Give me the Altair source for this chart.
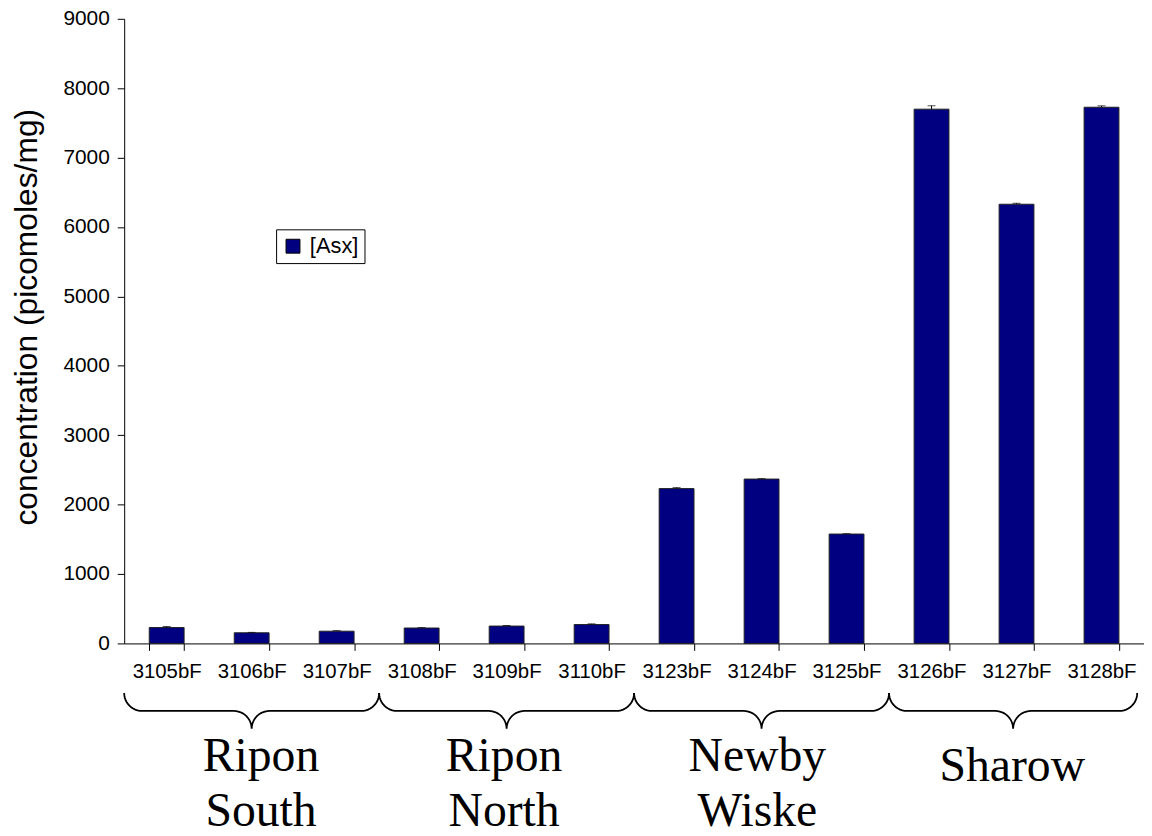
import altair as alt
import pandas as pd
import math

# ---- data ----
samples = ["3105bF", "3106bF", "3107bF", "3108bF", "3109bF", "3110bF",
           "3123bF", "3124bF", "3125bF", "3126bF", "3127bF", "3128bF"]
values = [229, 153, 176, 222, 250, 272, 2231, 2368, 1576, 7698, 6328, 7726]
errors = [15, 6, 8, 6, 8, 10, 14, 6, 5, 49, 14, 20]
series_name = "[Asx]"

group_names = ["Ripon\nSouth", "Ripon\nNorth", "Newby\nWiske", "Sharow"]
group_start = [0, 3, 6, 9]          # band index where each site begins
group_end = [3, 6, 9, 11.92]        # band index where each site ends
group_label_x = [1.61, 4.47, 7.45, 10.45]
group_label_line = [0, 0, 0, 11]    # extra drop (px) of a label's first line

# ---- layout constants ----
PLOT_W, PLOT_H = 1027, 629
BRACE_TOP, BRACE_MID, BRACE_TIP = 679, 697, 715   # px below the plot top
BRACE_R_PX = 18
LABEL_BASE = 757

bars_df = pd.DataFrame({"sample": samples, "value": values, "err": errors})
bars_df["hi"] = bars_df["value"] + bars_df["err"]
bars_df["series"] = series_name

# brace outline built from the group spans
rx = BRACE_R_PX / (PLOT_W / len(samples))
rows = []
for g, a, b in zip(group_names, group_start, group_end):
    m = (a + b) / 2
    left = []
    n = 12
    for k in range(n + 1):
        t = math.pi / 2 * k / n
        left.append((a + rx - rx * math.cos(t), BRACE_TOP + BRACE_R_PX * math.sin(t)))
    for k in range(n + 1):
        t = math.pi / 2 * k / n
        left.append((m - rx + rx * math.sin(t), BRACE_TIP - BRACE_R_PX * math.cos(t)))
    right = [(2 * m - x, y) for (x, y) in reversed(left[:-1])]
    for i, (x, y) in enumerate(left + right):
        rows.append({"group": g, "bx": x, "by": y, "o": i})
brace_df = pd.DataFrame(rows)

label_df = pd.DataFrame({
    "group": group_names,
    "lx": group_label_x,
    "ly": [LABEL_BASE + d for d in group_label_line],
})

x_band = alt.X(
    "sample:N",
    sort=samples,
    scale=alt.Scale(paddingInner=0.59, paddingOuter=0.295),
    axis=alt.Axis(
        title=None, labelAngle=0, tickBand="extent", tickSize=7,
        labelPadding=11, labelFontSize=20.5, labelFont="Liberation Sans",
        labelColor="black", domainColor="black", tickColor="black",
        labelFlush=False, labelOverlap=False,
    ),
)
y_val = alt.Y(
    "value:Q",
    scale=alt.Scale(domain=[0, 9000], nice=False),
    axis=alt.Axis(
        title="concentration (picomoles/mg)", values=list(range(0, 9001, 1000)),
        format="d",
        tickSize=7, labelPadding=8, labelFontSize=21, labelFont="Liberation Sans",
        labelColor="black", domainColor="black", tickColor="black", grid=False,
        titleFont="Liberation Sans", titleFontSize=32, titleFontWeight="normal",
        titleColor="black", titleX=-88, titleY=300, titleAngle=270,
        titleBaseline="alphabetic", titleAlign="center",
    ),
)

bars = alt.Chart(bars_df).mark_bar(stroke="#222222", strokeWidth=1).encode(
    x=x_band,
    y=y_val,
    color=alt.Color(
        "series:N",
        scale=alt.Scale(domain=[series_name], range=["#000080"]),
        legend=alt.Legend(
            title=None, orient="none", legendX=153, legendY=212,
            symbolType="square", symbolSize=196, symbolStrokeColor="black",
            symbolStrokeWidth=1, labelFontSize=22, labelFont="Liberation Sans",
            labelColor="black", strokeColor="black", padding=6,
            labelOffset=6, fillColor="white",
        ),
    ),
)
err_rule = alt.Chart(bars_df).mark_rule(color="black", strokeWidth=1).encode(
    x=alt.X("sample:N", sort=samples), y="value:Q", y2="hi:Q"
)
err_cap = alt.Chart(bars_df).mark_tick(color="black", thickness=1, size=8).encode(
    x=alt.X("sample:N", sort=samples), y="hi:Q"
)
main = alt.layer(bars, err_rule, err_cap)

bx_scale = alt.Scale(domain=[0, len(samples)], nice=False, zero=False)
by_scale = alt.Scale(domain=[0, 820], range=[0, 820], nice=False, zero=False)

braces = alt.Chart(brace_df).mark_line(color="black", strokeWidth=1.8).encode(
    x=alt.X("bx:Q", scale=bx_scale, axis=None),
    y=alt.Y("by:Q", scale=by_scale, axis=None),
    detail="group:N",
    order="o:Q",
)
labels = alt.Chart(label_df).mark_text(
    font="Liberation Serif", fontSize=48, color="black", lineBreak="\n",
    lineHeight=56, baseline="alphabetic", align="center",
).encode(
    x=alt.X("lx:Q", scale=bx_scale, axis=None),
    y=alt.Y("ly:Q", scale=by_scale, axis=None),
    text="group:N",
)
deco = alt.layer(braces, labels)

chart = alt.layer(main, deco).resolve_scale(
    x="independent", y="independent", color="independent"
).properties(
    width=PLOT_W, height=PLOT_H,
    autosize=alt.AutoSizeParams(type="none"),
    padding={"left": 117, "top": 8, "right": 0, "bottom": 183},
).configure_view(stroke=None)

chart.save("out.html", embed_options={"renderer": "svg", "actions": False})
